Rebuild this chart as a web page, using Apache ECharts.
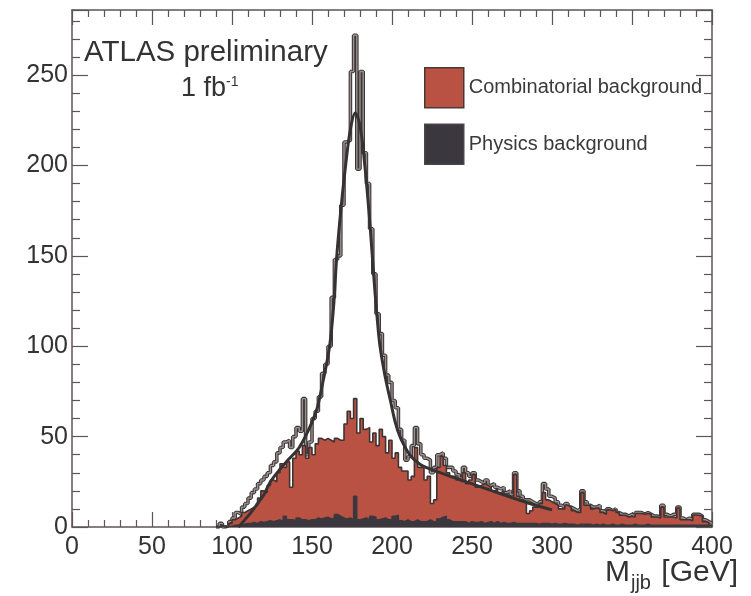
<!DOCTYPE html>
<html><head><meta charset="utf-8">
<script src="https://cdn.jsdelivr.net/npm/echarts@6/dist/echarts.min.js"></script>
<style>html,body{margin:0;padding:0;background:#fff}#c{width:751px;height:596px}</style>
</head><body><div id="c"></div>
<script>
// Histogram binning (GeV)
const binStart = 90, binWidth = 2, xMin = 0, xMax = 400;
// Total (signal + backgrounds), outlined histogram
const totalCounts = [
 0,2,0,1,3,
 5,8,7,11,13,16,19,21,24,26,
 28,30,34,36,41,44,47,48,44,50,
 55,53,71,40,47,60,64,72,85,90,
 100,127,148,150,178,213,214,252,272,198,
 252,207,190,165,140,118,107,95,84,80,
 70,66,54,48,37,39,45,55,46,40,
 38,37,30,33,40,41,38,33,33,31,
 29,27,33,30,28,30,26,25,24,26,
 23,24,22,21,22,19,20,18,30,20,
 17,15,15,14,13,12,14,24,21,17,
 16,14,12,11,13,11,10,9,10,20,
 14,12,11,11,12,9,8,10,9,10,
 8,7,7,6,7,6,8,8,7,8,
 7,6,6,5,12,7,6,7,7,11,
 5,4,5,4,7,7,6,4,3,2
];
const combinatorialCounts = [
 0,1,0,0.5,2,
 4,5,6,8,9,10,11,12,16,20,
 19,23,26,25,30,35,33,36,22,38,
 42,40,45,38,44,40,46,49,48,49,
 48,47,49,48,48,57,64,60,71,52,
 60,54,55,47,52,45,54,50,41,48,
 38,41,33,31,31,26,28,44,33,33,
 26,28,13,15,33,39,34,30,28,28,
 26,25,30,24,26,29,22,23,24,23,
 22,20,21,19,20,18,17,16,29,17,
 15,14,7.5,9,11,11,13,19,15,14,
 13,12,10,10,12,11,9,8,8,19,
 12,12,10,10.5,10,8,7,9.5,9,9.5,
 8,6.5,6.5,5.5,6,5.5,7.5,7.5,7,7.5,
 7,5.5,5.5,5,11,5.5,5.5,5.5,5,10.5,
 4,4,4,3.5,6.6,6.5,6,3,2.5,1
];
const physicsCounts = [
 0,0.5,0,0.3,0.5,
 1,1,1.5,1.5,2,2,2.5,2,3,2.5,
 3,3.5,3,3.5,4,3,6,4,4,3.5,
 5,4,4,3.5,4,4,5,4.5,5,5.5,
 4.5,5,7,6,5,4.5,5,4,17,4,
 4.5,5,4,6,5.5,4,4.5,5,4,4,
 6,6.5,3.5,3,4,3,3,4,3,3,
 3,4,3,3,4.5,5.5,6,4,3,3,
 3,3,3,2,3,2.5,2.5,3,2,2.5,
 3,2,3,2,2.5,2,2,2.5,2,2,
 2,2,2,2,2,1.5,2,2,2,1.5,
 2,1.5,1.5,2,1.5,1.5,1.5,1,1.5,1.5,
 1.5,1.5,1,1.5,1,1.5,1,1,1.5,1,
 1,1.5,1,1,1,1.5,1,1,1,1.5,
 1,1,1,1,1,1,1,1,1,1,
 1,1,1,1,1,1,1,1,1,0.5
];
// Fit curve (GeV, counts)
const fitX = [104,110,116,120,124,130,136,142,148,153,157,161,163.5,165.5,168,171,174,177,180,183,186,188.5,190.5,192.5,196,199,202,205,211,217,224,240,261,286,300];
const fitY = [0,6,13,18,25,32,38,44,54,65,81,100,122,150,175,200,220,229,222,200,170,140,118,100,82,70,58,50,40,35,32,27,20.5,13,9.5];
const xTicks = [0,50,100,150,200,250,300,350,400];
const yTicks = [0,50,100,150,200,250];

function stepData(counts){
  const d = counts.map((v,i)=>[binStart + i*binWidth, v]);
  d.push([binStart + counts.length*binWidth, counts[counts.length-1]]);
  return d;
}

const frameColor = '#5e5656';
const txtColor = '#333333';
const font = 'Liberation Sans, Arial, Helvetica, sans-serif';
const redFill = '#b95242';
const darkFill = '#3a383e';

function xAx(pos, labels){
  return {type:'value', min:xMin, max:xMax, interval:50, position:pos, gridIndex:0,
    axisLine:{show:true, onZero:false, lineStyle:{color:frameColor, width:1.5}},
    axisTick:{show:true, inside:true, length:15, lineStyle:{color:frameColor, width:1.2}},
    minorTick:{show:true, splitNumber:5, length:7, lineStyle:{color:frameColor, width:1.2}},
    splitLine:{show:false},
    axisLabel:{show:labels, fontSize:25, color:txtColor, fontFamily:font, margin:8}
  };
}
function yAx(pos, labels){
  return {type:'value', min:0, max:286, interval:50, position:pos, gridIndex:0,
    axisLine:{show:true, onZero:false, lineStyle:{color:frameColor, width:1.5}},
    axisTick:{show:true, inside:true, length:16, lineStyle:{color:frameColor, width:1.2}},
    minorTick:{show:true, splitNumber:5, length:8, lineStyle:{color:frameColor, width:1.2}},
    splitLine:{show:false},
    axisLabel:{show:labels, fontSize:25, color:txtColor, fontFamily:font, margin:4, showMaxLabel:false}
  };
}

const chart = echarts.init(document.getElementById('c'), null, {renderer:'canvas'});
chart.setOption({
  animation:false,
  backgroundColor:'#ffffff',
  grid:{left:72, right:39, top:10, bottom:69, containLabel:false},
  xAxis:[xAx('bottom', true), xAx('top', false)],
  yAxis:[yAx('left', true), yAx('right', false)],
  title:[
    {text:'ATLAS preliminary', left:79, top:33, textStyle:{fontSize:29.5, fontWeight:'normal', color:txtColor, fontFamily:font}},
    {text:'{a|1 fb}{s|-1}', left:176, top:70, textStyle:{fontWeight:'normal', rich:{
      a:{fontSize:27, fontWeight:'normal', color:txtColor, fontFamily:font},
      s:{fontSize:14, fontWeight:'normal', color:txtColor, fontFamily:font, verticalAlign:'top'}}}},
    {text:'{a|M}{b|jjb}{a| [GeV]}', right:8, top:553, textStyle:{fontWeight:'normal', rich:{
      a:{fontSize:30, fontWeight:'normal', color:txtColor, fontFamily:font, lineHeight:35, verticalAlign:'top'},
      b:{fontSize:20, fontWeight:'normal', color:txtColor, fontFamily:font, lineHeight:35, verticalAlign:'bottom', padding:[0,2,0,1]}}}}
  ],
  legend:{
    left:419, top:62, orient:'vertical', itemWidth:39, itemHeight:40, itemGap:15,
    selectedMode:false,
    textStyle:{fontSize:20, color:'#3a3a3a', fontFamily:font},
    data:[
      {name:'Combinatorial background', icon:'rect', itemStyle:{color:redFill, borderColor:'#4a3836', borderWidth:1.5}},
      {name:'Physics background', icon:'rect', itemStyle:{color:darkFill, borderColor:'#4a4446', borderWidth:1.5}}
    ]
  },
  series:[
    {name:'Total', type:'line', step:'end', data:stepData(totalCounts), showSymbol:false,
     lineStyle:{color:'#3e3838', width:3.6}, z:2},
    {name:'Total inner', type:'line', step:'end', data:stepData(totalCounts), showSymbol:false,
     lineStyle:{color:'#9a9090', width:1.4}, z:3},
    {name:'Combinatorial background', type:'line', step:'end', data:stepData(combinatorialCounts), showSymbol:false,
     lineStyle:{color:'#3e3434', width:1.6}, areaStyle:{color:redFill, opacity:1}, itemStyle:{color:redFill}, z:4},
    {name:'Physics background', type:'line', step:'end', data:stepData(physicsCounts), showSymbol:false,
     lineStyle:{color:darkFill, width:1.4}, areaStyle:{color:darkFill, opacity:1}, itemStyle:{color:darkFill}, z:5},
    {name:'Fit', type:'line', smooth:0.35, data:fitX.map((x,i)=>[x, fitY[i]]), showSymbol:false,
     lineStyle:{color:'#363234', width:3}, z:6}
  ]
});
</script>
</body></html>
